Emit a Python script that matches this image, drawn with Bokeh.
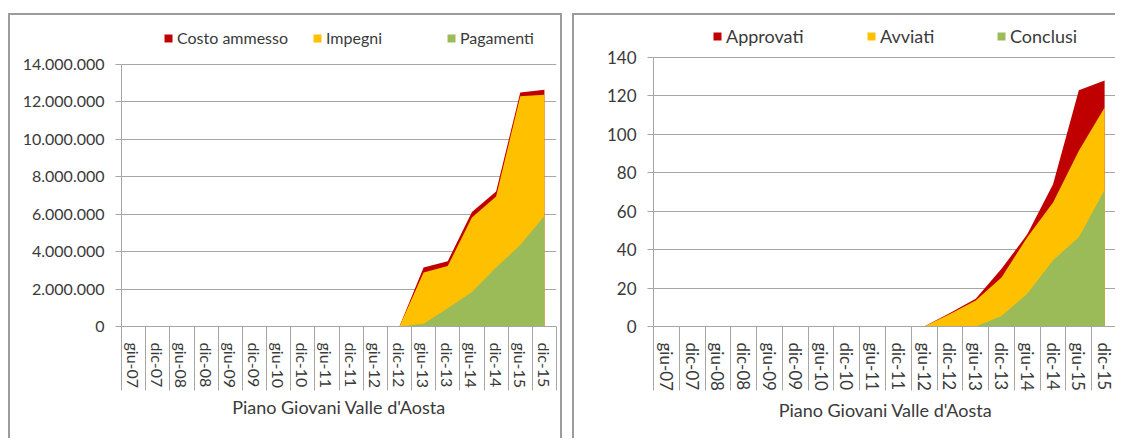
from bokeh.plotting import figure
from bokeh.models import Range1d, FixedTicker, Legend, LegendItem, ColumnDataSource
from bokeh.layouts import row
from bokeh.embed import file_html
from bokeh.resources import INLINE

# ---------------- data ----------------
categories = ["giu-07", "dic-07", "giu-08", "dic-08", "giu-09", "dic-09",
              "giu-10", "dic-10", "giu-11", "dic-11", "giu-12", "dic-12",
              "giu-13", "dic-13", "giu-14", "dic-14", "giu-15", "dic-15"]

# left chart (euro)
costo_ammesso = [0, 0, 0, 0, 0, 0, 0, 0, 0, 0, 0, 0,
                 3150000, 3490000, 6120000, 7210000, 12510000, 12650000]
impegni = [0, 0, 0, 0, 0, 0, 0, 0, 0, 0, 0, 0,
           2890000, 3230000, 5820000, 6950000, 12300000, 12390000]
pagamenti = [0, 0, 0, 0, 0, 0, 0, 0, 0, 0, 0, 0,
             150000, 980000, 1850000, 3150000, 4350000, 5910000]
left_y_ticks = [0, 2000000, 4000000, 6000000, 8000000, 10000000, 12000000, 14000000]
left_y_labels = ["0", "2.000.000", "4.000.000", "6.000.000", "8.000.000",
                 "10.000.000", "12.000.000", "14.000.000"]

# right chart (number of projects)
approvati = [0, 0, 0, 0, 0, 0, 0, 0, 0, 0, 0, 7, 14.5, 30, 48, 74, 123, 128]
avviati = [0, 0, 0, 0, 0, 0, 0, 0, 0, 0, 0, 6.5, 13.5, 25.5, 46.5, 64.5, 91.5, 114]
conclusi = [0, 0, 0, 0, 0, 0, 0, 0, 0, 0, 0, 0, 0, 5.5, 17, 34.5, 46.5, 71]
right_y_ticks = [0, 20, 40, 60, 80, 100, 120, 140]
right_y_labels = ["0", "20", "40", "60", "80", "100", "120", "140"]

axis_title = "Piano Giovani Valle d'Aosta"
left_series = ["Costo ammesso", "Impegni", "Pagamenti"]
right_series = ["Approvati", "Avviati", "Conclusi"]

# ---------------- style ----------------
RED = "#C00000"
YELLOW = "#FFC000"
GREEN = "#9BBB59"
GRID = "#a6a6a6"
TEXT = "#3a3a3a"
FONT = "Lato"
BORDER = "2px solid #9c9c9c"

n = len(categories)
xc = [i + 0.5 for i in range(n)]


def make_chart(width, height, x_end, y_ticks, y_labels, series, names,
               mbl, mbr, mbb, data_px, legend_x, legend_gap, fs, lfs, styles):
    # frame height in px and the part of it that holds the data (0 .. max tick);
    # the space above the top gridline holds the legend
    frame_h = height - mbb
    y_top = y_ticks[-1]
    y_end = y_top * frame_h / data_px
    p = figure(width=width, height=height, output_backend="svg", toolbar_location=None,
               x_range=Range1d(0, x_end), y_range=Range1d(0, y_end),
               min_border_left=mbl, min_border_right=mbr,
               min_border_top=0, min_border_bottom=mbb,
               outline_line_color=None, background_fill_color="white",
               border_fill_color="white", styles=styles)
    src = ColumnDataSource(dict(x=xc, s0=series[0], s1=series[1], s2=series[2]))
    colors = [RED, YELLOW, GREEN]
    rends = []
    for k in range(3):
        r = p.varea(x="x", y1=0, y2="s%d" % k, source=src, fill_color=colors[k])
        rends.append(r)

    # x axis: labels between separators
    xa = p.xaxis[0]
    xa.ticker = FixedTicker(ticks=xc, minor_ticks=list(range(n + 1)))
    xa.major_label_overrides = {xc[i]: categories[i] for i in range(n)}
    xa.major_label_orientation = "vertical"
    xa.major_tick_out = 0
    xa.major_tick_in = 0
    xa.minor_tick_in = 0
    xa.minor_tick_out = 64
    xa.minor_tick_line_color = GRID
    xa.axis_line_color = GRID
    xa.major_label_text_font = FONT
    xa.major_label_text_font_size = "%dpx" % fs
    xa.major_label_text_color = TEXT
    xa.major_label_standoff = -48
    xa.axis_label = axis_title
    xa.axis_label_text_font = FONT
    xa.axis_label_text_font_size = "18px"
    xa.axis_label_text_font_style = "normal"
    xa.axis_label_text_color = TEXT
    xa.axis_label_standoff = 5

    # y axis, limited to the data part of the frame
    ya = p.yaxis[0]
    ya.bounds = (0, y_top)
    ya.ticker = FixedTicker(ticks=y_ticks)
    ya.major_label_overrides = {y_ticks[i]: y_labels[i] for i in range(len(y_ticks))}
    ya.major_tick_out = 6
    ya.major_tick_in = 0
    ya.minor_tick_out = 0
    ya.minor_tick_in = 0
    ya.major_tick_line_color = GRID
    ya.axis_line_color = GRID
    ya.major_label_text_font = FONT
    ya.major_label_text_font_size = "%dpx" % fs
    ya.major_label_text_color = TEXT
    ya.major_label_standoff = 11

    p.xgrid.visible = False
    p.ygrid.ticker = FixedTicker(ticks=y_ticks)
    p.ygrid.grid_line_color = GRID

    for k in range(3):
        legend = Legend(items=[LegendItem(label=names[k], renderers=[rends[k]])],
                        orientation="horizontal",
                        location=(legend_x[k], data_px + legend_gap),
                        glyph_width=10, glyph_height=10, label_standoff=4,
                        label_text_font=FONT, label_text_font_size="%dpx" % lfs,
                        label_text_color=TEXT, padding=0, margin=0,
                        border_line_alpha=0, background_fill_alpha=0)
        p.add_layout(legend)
    return p


left = make_chart(554, 425, n, left_y_ticks, left_y_labels,
                  [costo_ammesso, impegni, pagamenti], left_series,
                  111, 8, 114, 262, [42, 191, 325], 17, 16, 16,
                  {"border-left": BORDER, "border-top": BORDER, "border-right": BORDER})
right = make_chart(543, 425, n, right_y_ticks, right_y_labels,
                   [approvati, avviati, conclusi], right_series,
                   79, 0, 114, 269, [59, 213, 343], 10, 17, 18,
                   {"border-left": BORDER, "border-top": BORDER})

layout = row(left, right, spacing=10, margin=(13, 0, 0, 8))

open("out.html", "w").write(file_html(layout, INLINE))
